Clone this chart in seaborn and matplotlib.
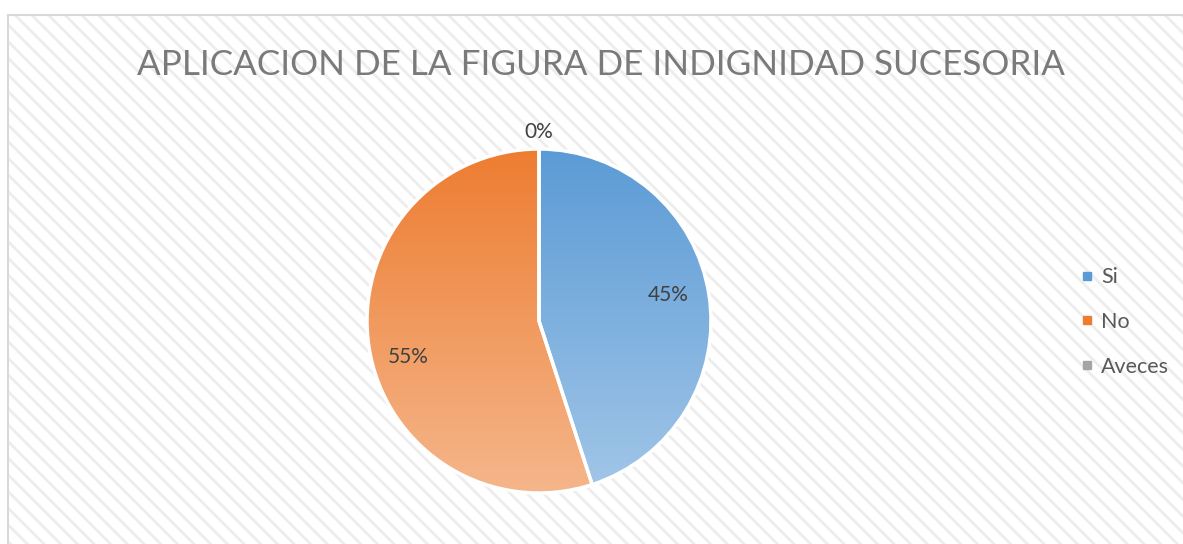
import matplotlib
matplotlib.use("Agg")
import matplotlib.pyplot as plt
import numpy as np
import seaborn as sns
from matplotlib.colors import LinearSegmentedColormap
from matplotlib.lines import Line2D
from matplotlib.patches import Rectangle

sns.set_theme(style="white")
plt.rcParams["font.family"] = ["Lato", "DejaVu Sans"]
plt.rcParams["hatch.linewidth"] = 2.0

# data
categories = ["Si", "No", "Aveces"]
values = [45, 55, 0]
title = "APLICACION DE LA FIGURA DE INDIGNIDAD SUCESORIA"

top_colors = ["#5b9bd5", "#ed7d31", "#a5a5a5"]
bottom_colors = ["#a2c6e8", "#f5b68b", "#c8c8c8"]

W, H = 1183, 544
fig = plt.figure(figsize=(W / 100, H / 100), dpi=100)
fig.patch.set_facecolor("white")

# hatched chart area with light border
frame = Rectangle((8 / W, 0), 1 - 8 / W + 0.01, 1 - 15 / H, transform=fig.transFigure,
                  facecolor="white", edgecolor="#ededed", hatch="\\\\", linewidth=0,
                  zorder=-5)
fig.patches.append(frame)
border = Rectangle((8 / W, -0.01), 1, 1 - 15 / H + 0.01, transform=fig.transFigure,
                   facecolor="none", edgecolor="#d9d9d9", linewidth=1.5, zorder=-4)
fig.patches.append(border)

ax = fig.add_axes([0, 0, 1, 1])
ax.patch.set_alpha(0)

cx, cy, R = 539, H - 321, 172
wedges, texts, autotexts = ax.pie(
    values, startangle=90, counterclock=False, center=(cx, cy), radius=R,
    autopct="%1.0f%%", pctdistance=0.78, frame=True,
    wedgeprops=dict(edgecolor="white", linewidth=2.5),
    textprops=dict(fontsize=15, color="#404040"),
)
ax.set_xlim(0, W)
ax.set_ylim(0, H)
ax.set_aspect("equal")
ax.axis("off")

# vertical gradient fill per slice
grad = np.linspace(1, 0, 256).reshape(-1, 1)
for w, c0, c1 in zip(wedges, top_colors, bottom_colors):
    cmap = LinearSegmentedColormap.from_list("g", [c1, c0])
    w.set_facecolor("none")
    im = ax.imshow(grad, cmap=cmap, extent=[cx - R, cx + R, cy - R, cy + R],
                   origin="upper", aspect="auto", zorder=w.get_zorder() - 0.1)
    im.set_clip_path(w)
ax.set_xlim(0, W)
ax.set_ylim(0, H)

# zero slice label sits outside the pie, the others shifted like the best-fit layout
for v, t in zip(values, autotexts):
    x, y = t.get_position()
    if v == 0:
        t.set_position((cx, cy + 1.1 * R))
    elif v == 55:
        t.set_position((x + 2, y - 15))
    else:
        t.set_position((x - 3, y + 5))

fig.text(601 / W, (H - 65) / H, title, ha="center", va="center",
         fontsize=25.2, color="#7a7a7a")

handles = [Line2D([], [], marker="s", linestyle="", markersize=6,
                  markerfacecolor=c, markeredgecolor=c) for c in top_colors]
leg = ax.legend(handles, categories, loc="center left",
                bbox_to_anchor=(1057 / W, (H - 322) / H), bbox_transform=fig.transFigure,
                frameon=False, fontsize=15.5, labelspacing=1.15, handletextpad=0.15,
                handlelength=1.0)
for t in leg.get_texts():
    t.set_color("#595959")

fig.savefig("out.png", dpi=100)
